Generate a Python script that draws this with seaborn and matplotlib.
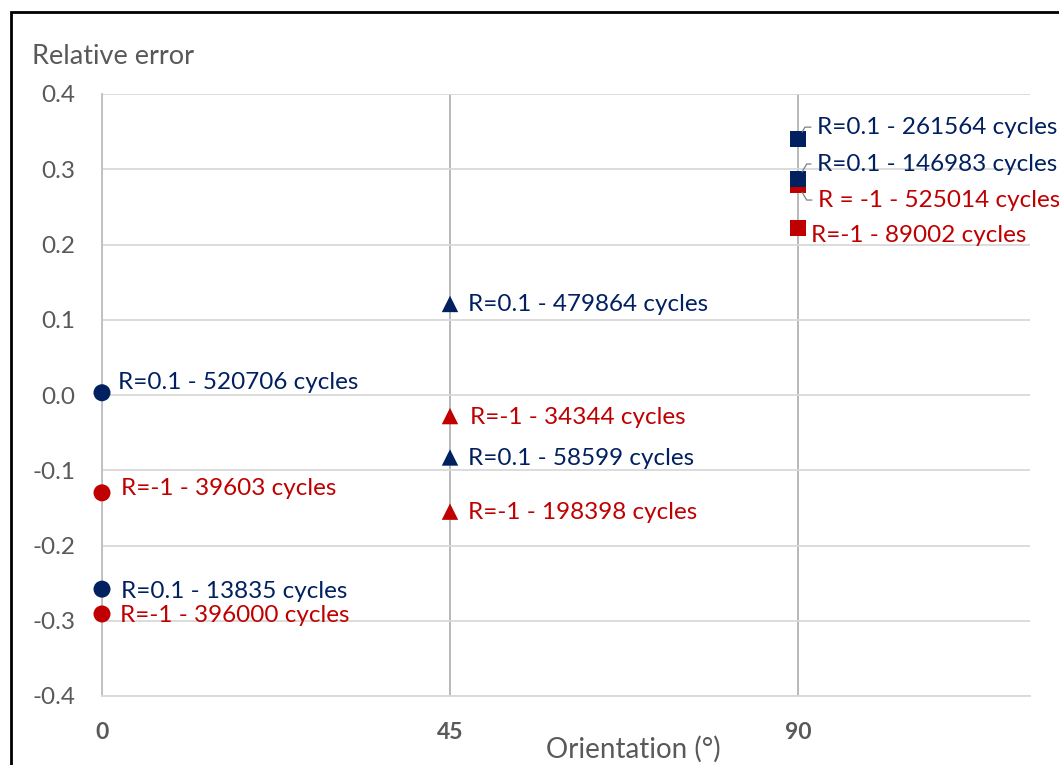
import matplotlib
matplotlib.use("Agg")
import matplotlib.pyplot as plt
import matplotlib.patches as mpatches
import seaborn as sns
import pandas as pd

sns.set_theme(style="white")
plt.rcParams["font.family"] = ["Lato", "DejaVu Sans"]

# Data: relative error of fatigue-life prediction by fibre orientation
orientation = [0, 0, 0, 0, 45, 45, 45, 45, 90, 90, 90, 90]
rel_error = [0.003, -0.130, -0.258, -0.291,
             0.121, -0.028, -0.083, -0.155,
             0.340, 0.279, 0.287, 0.222]
ratio = ["R=0.1", "R=-1", "R=0.1", "R=-1",
         "R=0.1", "R=-1", "R=0.1", "R=-1",
         "R=0.1", "R=-1", "R=0.1", "R=-1"]
point_labels = ["R=0.1 - 520706 cycles", "R=-1 - 39603 cycles",
                "R=0.1 - 13835 cycles", "R=-1 - 396000 cycles",
                "R=0.1 - 479864 cycles", "R=-1 - 34344 cycles",
                "R=0.1 - 58599 cycles", "R=-1 - 198398 cycles",
                "R=0.1 - 261564 cycles", "R = -1 - 525014 cycles",
                "R=0.1 - 146983 cycles", "R=-1 - 89002 cycles"]
x_ticks = [0, 45, 90]
y_ticks = [-0.4, -0.3, -0.2, -0.1, 0.0, 0.1, 0.2, 0.3, 0.4]

df = pd.DataFrame({"orientation": orientation, "error": rel_error,
                   "ratio": ratio, "label": point_labels})

palette = {"R=0.1": "#002060", "R=-1": "#C00000"}
markers = {0: ("o", 150), 45: ("^", 140), 90: ("s", 125)}

# label offsets (pixels) and leader-line direction per point
offsets = [(16, 10), (19, 4), (19, -2), (18, -2),
           (18, -1), (20, -1), (18, -1), (18, -1),
           (19, 12), (20, -15), (19, 15), (13, -8)]
leaders = [None, None, None, None, None, None, None, None, 60, -60, 60, None]

fig = plt.figure(figsize=(10.59, 7.65), dpi=100)
ax = fig.add_axes([102 / 1059, 1 - 696 / 765, (1030 - 102) / 1059, (696 - 94) / 765])

for orient, (mk, size) in markers.items():
    sub = df[df["orientation"] == orient]
    sns.scatterplot(data=sub, x="orientation", y="error", hue="ratio",
                    palette=palette, marker=mk, s=size, linewidth=0,
                    legend=False, ax=ax, zorder=3, clip_on=False)

ax.set_xlim(0, 120)
ax.set_ylim(-0.4, 0.4)
ax.set_xticks(x_ticks)
ax.set_yticks(y_ticks)
ax.set_yticklabels([f"{v:.1f}" for v in y_ticks])
ax.set_xlabel("")
ax.set_ylabel("")

ax.grid(True, axis="y", color="#d9d9d9", linewidth=1.3)
ax.grid(True, axis="x", color="#a6a6a6", linewidth=1.1)
for side in ["top", "right"]:
    ax.spines[side].set_visible(False)
ax.spines["left"].set_color("#bfbfbf")
ax.spines["left"].set_linewidth(1.3)
ax.spines["bottom"].set_color("#d9d9d9")
ax.spines["bottom"].set_linewidth(1.3)

ax.tick_params(axis="y", length=0, pad=19, labelsize=17.5, labelcolor="#595959")
ax.tick_params(axis="x", length=0, pad=19, labelsize=16.5, labelcolor="#595959")
for t in ax.get_xticklabels():
    t.set_fontweight("bold")

for i, row in df.iterrows():
    dx, dy = offsets[i]
    kw = {}
    if leaders[i] is not None:
        kw["arrowprops"] = dict(arrowstyle="-", color="#7f7f7f", lw=0.9,
                                shrinkA=2, shrinkB=6,
                                connectionstyle=f"angle,angleA=0,angleB={leaders[i]},rad=0",
                                relpos=(0, 0.5))
    ax.annotate(row["label"], xy=(row["orientation"], row["error"]),
                xytext=(dx, dy), textcoords="offset pixels",
                ha="left", va="center", fontsize=17.5,
                color=palette[row["ratio"]], annotation_clip=False,
                clip_on=False, zorder=4, **kw)

fig.text(32 / 1059, 1 - 56 / 765, "Relative error", fontsize=19.5,
         color="#595959", ha="left", va="center")
fig.text(633 / 1059, 1 - 749 / 765, "Orientation (°)", fontsize=20,
         color="#595959", ha="center", va="center")

# frame around the figure
fig.patches.append(mpatches.Rectangle((11 / 1059, -0.1), 1.2, 1.1 - 12 / 765,
                                      transform=fig.transFigure, fill=False,
                                      edgecolor="black", linewidth=2))

fig.savefig("out.png", dpi=100, facecolor="white")
